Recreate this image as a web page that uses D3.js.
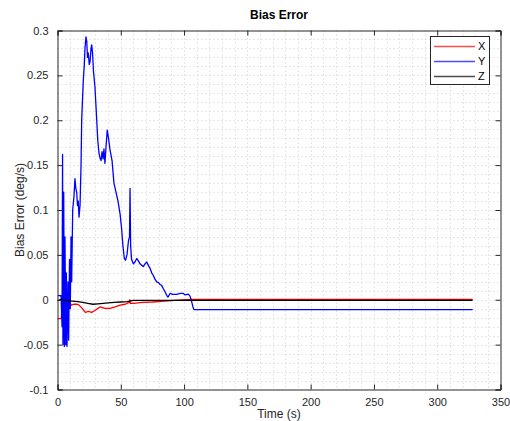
<!DOCTYPE html>
<html><head><meta charset="utf-8">
<script src="https://cdn.jsdelivr.net/npm/d3@7"></script>
<style>body{margin:0;background:#fff}svg{display:block}text{font-family:"Liberation Sans",Arial,sans-serif}</style>
</head><body><svg id="c" width="510" height="421"></svg>
<script>
const xTicks = [0,50,100,150,200,250,300,350];
const yTicks = [-0.1,-0.05,0,0.05,0.1,0.15,0.2,0.25,0.3];
const yTickLabels = ["-0.1","-0.05","0","0.05","0.1","0.15","0.2","0.25","0.3"];
const seriesNames = ["X","Y","Z"];
const seriesColors = ["#ff0000","#0000ff","#000000"];

const tX = [0,3,3.6,4.5,6,8,9.5,11,13,15.5,17,19.5,22,24.5,27,29.5,33.5,37.5,41.5,45.5,49.5,53.5,56.5,57.2,57.6,60,67,75,85,95,105,110,328];
const vX = [-0.021,-0.021,-0.002,0.001,-0.002,-0.004,-0.003,-0.006,-0.005,-0.005,-0.006,-0.0096,-0.014,-0.013,-0.014,-0.012,-0.008,-0.0096,-0.0096,-0.008,-0.006,-0.005,-0.003,0.0,-0.004,-0.004,-0.003,-0.0025,-0.0015,-0.0005,0.0003,0.0005,0.0005];

const tY = [0,2.8,3.6,4.0,4.3,4.9,5.4,5.9,6.5,7.0,7.5,8.3,8.8,9.5,10.1,10.7,11.2,12.0,13.0,13.8,14.4,15.2,15.8,16.4,17.0,17.8,18.6,19.1,20.4,21.2,21.7,22.5,23.1,23.7,24.3,25.1,25.7,26.5,27.0,27.7,28.4,29.6,31.0,31.8,32.8,33.6,34.4,35.2,36.0,36.7,37.5,38.3,39.3,40.3,41.5,43.1,44.6,46.2,47.8,49.4,50.6,51.7,52.8,53.7,54.9,56.1,56.9,57.3,57.8,58.5,59.9,61.2,62.6,64.0,65.2,66.8,67.8,69.1,70.5,71.9,73.1,74.4,75.7,77.0,78.4,79.8,81.0,82.3,83.7,84.9,86.3,87.3,88.9,91.2,94.2,96.8,99.4,100.7,103.3,104.7,106.0,107.0,107.8,328];
const vY = [0.0045,0.0045,-0.03,0.162,-0.05,0.12,-0.052,0.07,-0.05,0.03,-0.052,0.02,-0.045,0.045,-0.01,0.07,0.02,0.10,0.115,0.135,0.125,0.119,0.105,0.11,0.092,0.105,0.15,0.2,0.245,0.262,0.28,0.293,0.288,0.27,0.275,0.262,0.265,0.28,0.284,0.275,0.255,0.237,0.2,0.178,0.163,0.158,0.155,0.165,0.157,0.168,0.152,0.17,0.189,0.18,0.167,0.155,0.13,0.12,0.11,0.096,0.08,0.06,0.046,0.044,0.05,0.066,0.07,0.124,0.06,0.045,0.040,0.042,0.046,0.043,0.040,0.038,0.037,0.040,0.042,0.038,0.035,0.030,0.027,0.023,0.020,0.019,0.017,0.016,0.012,0.009,0.005,0.003,0.007,0.006,0.006,0.007,0.007,0.0055,0.0063,0.004,-0.002,-0.008,-0.011,-0.011];

const tZ = [0,2,4,8,12,16,20,24,28,32,36,40,45,50,55,58,60,80,100,328];
const vZ = [-0.001,0.0,-0.0005,-0.001,-0.0015,-0.002,-0.003,-0.004,-0.005,-0.0045,-0.004,-0.0035,-0.003,-0.0025,-0.002,-0.0012,-0.0008,-0.0008,-0.0007,-0.0007];

const svg = d3.select("#c");
const L = 57.5, R = 500.5, T = 30.5, B = 389.5;
const x = d3.scaleLinear().domain([0,350]).range([L,R]);
const y = d3.scaleLinear().domain([-0.1,0.3]).range([B,T]);
const axisCol = "#262626";

// grid (minor + major, dotted)
const g = svg.append("g");
d3.range(10,350,10).forEach(v=>{
  g.append("line").attr("x1",Math.round(x(v))+0.5).attr("x2",Math.round(x(v))+0.5).attr("y1",T).attr("y2",B)
   .attr("stroke","#cfcfcf").attr("stroke-width",1).attr("stroke-dasharray","1,3");
});
d3.range(-9,30).map(k=>k/100).forEach(v=>{
  g.append("line").attr("y1",Math.round(y(v))+0.5).attr("y2",Math.round(y(v))+0.5).attr("x1",L).attr("x2",R)
   .attr("stroke","#cfcfcf").attr("stroke-width",1).attr("stroke-dasharray","1,3");
});

// lines
svg.append("clipPath").attr("id","cp").append("rect").attr("x",L).attr("y",T).attr("width",R-L).attr("height",B-T);
const lineGen = d3.line().x(d=>x(d[0])).y(d=>y(d[1]));
const series = [[tX,vX],[tY,vY],[tZ,vZ]];
series.forEach((s,i)=>{
  svg.append("path").datum(s[0].map((t,j)=>[t,s[1][j]]))
    .attr("d",lineGen).attr("fill","none").attr("stroke",seriesColors[i])
    .attr("stroke-width",1.3).attr("stroke-linejoin","round").attr("clip-path","url(#cp)");
});

// axes
const tl = 5;
const axB = svg.append("g").attr("transform",`translate(0,${B})`)
  .call(d3.axisBottom(x).tickValues(xTicks).tickSize(-tl).tickPadding(9).tickFormat(d3.format("d")));
const axT = svg.append("g").attr("transform",`translate(0,${T})`)
  .call(d3.axisTop(x).tickValues(xTicks).tickSize(-tl).tickFormat(""));
const axL = svg.append("g").attr("transform",`translate(${L},0)`)
  .call(d3.axisLeft(y).tickValues(yTicks).tickSize(-tl).tickPadding(9).tickFormat((d,i)=>yTickLabels[i]));
const axR = svg.append("g").attr("transform",`translate(${R},0)`)
  .call(d3.axisRight(y).tickValues(yTicks).tickSize(-tl).tickFormat(""));
[axB,axT,axL,axR].forEach(a=>{
  a.select(".domain").attr("stroke",axisCol).attr("stroke-width",1);
  a.selectAll(".tick line").attr("stroke",axisCol);
  a.selectAll("text").attr("fill",axisCol).style("font-size","11px").style("font-family","'Liberation Sans',Arial,sans-serif");
});

// labels
svg.append("text").attr("x",(L+R)/2).attr("y",19).attr("text-anchor","middle")
  .style("font-size","12px").style("font-weight","bold").attr("fill","#000").text("Bias Error");
svg.append("text").attr("x",(L+R)/2).attr("y",417.5).attr("text-anchor","middle")
  .style("font-size","12px").attr("fill",axisCol).text("Time (s)");
svg.append("text").attr("transform",`translate(24,${(T+B)/2}) rotate(-90)`).attr("text-anchor","middle")
  .style("font-size","12px").attr("fill",axisCol).text("Bias Error (deg/s)");

// legend
const lg = svg.append("g");
lg.append("rect").attr("x",430.5).attr("y",36.5).attr("width",59).attr("height",48)
  .attr("fill","#fff").attr("stroke",axisCol).attr("stroke-width",1);
seriesNames.forEach((n,i)=>{
  const yy = 46 + i*15;
  lg.append("line").attr("x1",434).attr("x2",475).attr("y1",yy+0.5).attr("y2",yy+0.5)
    .attr("stroke",seriesColors[i]).attr("stroke-width",1.3).attr("stroke-opacity",0.7);
  lg.append("text").attr("x",478).attr("y",yy+4).style("font-size","11px").attr("fill","#000").text(n);
});
</script></body></html>
